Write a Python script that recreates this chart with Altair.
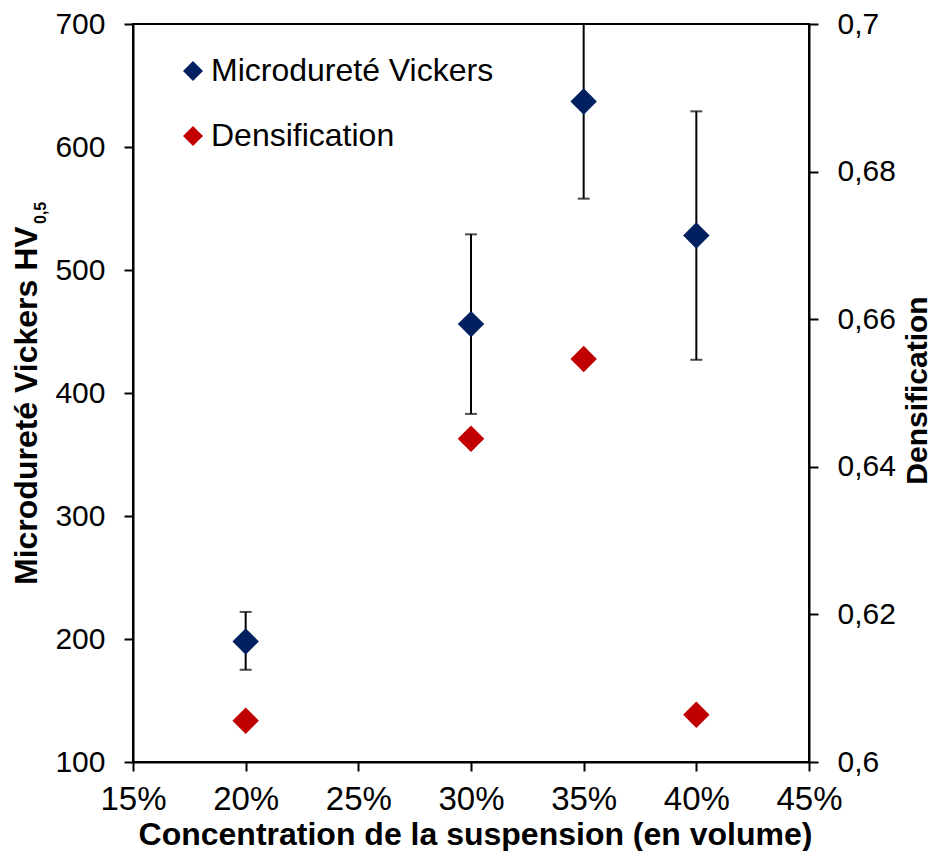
import altair as alt
import pandas as pd

# ---- data ----
conc = [0.20, 0.30, 0.35, 0.40]
hv = [198, 456, 637, 528]
hv_low = [175, 383, 558, 427]
hv_high = [222, 529, 716, 629]
dens = [0.6056, 0.6438, 0.6546, 0.6064]

series_names = ["Microdureté Vickers", "Densification"]
series_colors = ["#002060", "#C00000"]

x_ticks = [0.15, 0.20, 0.25, 0.30, 0.35, 0.40, 0.45]
y_ticks = [100, 200, 300, 400, 500, 600, 700]
y2_ticks = [0.6, 0.62, 0.64, 0.66, 0.68, 0.7]

x_title = "Concentration de la suspension (en volume)"
y_title_main = "Microdureté Vickers HV"
y_title_sub = "0,5"
y2_title = "Densification"

FONT = "Liberation Sans, Arial, Helvetica, sans-serif"

df_hv = pd.DataFrame({"conc": conc, "hv": hv, "low": hv_low, "high": hv_high,
                      "serie": series_names[0]})
df_d = pd.DataFrame({"conc": conc, "dens": dens, "serie": series_names[1]})

axis_common = dict(domainColor="black", domainWidth=2, tickColor="black", tickWidth=2,
                   tickSize=9, grid=False, labelFont=FONT, labelColor="black")

x_enc = alt.X("conc:Q",
              scale=alt.Scale(domain=[0.15, 0.45], nice=False, zero=False),
              axis=alt.Axis(values=x_ticks, format=".0%", title=x_title,
                            labelFontSize=33, labelPadding=12,
                            titleFont=FONT, titleFontSize=32,
                            titleFontWeight="bold", titleColor="black",
                            titleX=342, titleY=72, titleBaseline="middle",
                            labelFlush=False, **axis_common))

y_scale = alt.Scale(domain=[100, 700], nice=False, zero=False)
y_axis = alt.Axis(values=y_ticks, title=None, labelFontSize=30, labelPadding=19,
                  **axis_common)

color_enc = alt.Color("serie:N",
                      scale=alt.Scale(domain=series_names, range=series_colors),
                      legend=alt.Legend(orient="none", legendX=44, legendY=31, title=None,
                                        symbolType="diamond", symbolSize=400,
                                        symbolOpacity=1, symbolStrokeWidth=0,
                                        labelFont=FONT, labelFontSize=32,
                                        labelColor="black", labelOffset=2,
                                        labelLimit=0, rowPadding=33, padding=0))

base_hv = alt.Chart(df_hv)

rule = base_hv.mark_rule(color="black", strokeWidth=2, clip=True).encode(
    x=x_enc,
    y=alt.Y("low:Q", scale=y_scale, axis=y_axis),
    y2="high:Q",
)
cap_low = base_hv.mark_tick(orient="horizontal", size=12, thickness=2,
                            color="black", clip=True).encode(
    x=x_enc, y=alt.Y("low:Q", scale=y_scale, axis=y_axis))
cap_high = base_hv.mark_tick(orient="horizontal", size=12, thickness=2,
                             color="black", clip=True).encode(
    x=x_enc, y=alt.Y("high:Q", scale=y_scale, axis=y_axis))
pts_hv = base_hv.mark_point(shape="diamond", filled=True, size=700, opacity=1,
                            strokeWidth=0).encode(
    x=x_enc, y=alt.Y("hv:Q", scale=y_scale, axis=y_axis), color=color_enc)

left = alt.layer(rule, cap_low, cap_high, pts_hv)

right = alt.Chart(df_d).mark_point(shape="diamond", filled=True, size=700, opacity=1,
                                   strokeWidth=0).encode(
    x=x_enc,
    y=alt.Y("dens:Q",
            scale=alt.Scale(domain=[0.6, 0.7], nice=False, zero=False),
            axis=alt.Axis(orient="right", values=y2_ticks,
                          labelExpr="replace(format(datum.value, '.2~f'), '.', ',')",
                          labelFontSize=30, labelPadding=19,
                          title=y2_title, titleFont=FONT,
                          titleFontSize=30, titleFontWeight="bold", titleColor="black",
                          titleAngle=270, titleX=117, titleY=366,
                          titleBaseline="alphabetic", titleAlign="center",
                          **axis_common)),
    color=color_enc,
)

title_main = alt.Chart(pd.DataFrame({"t": [y_title_main]})).mark_text(
    angle=270, align="left", baseline="alphabetic", font=FONT, fontSize=32,
    fontWeight="bold", color="black").encode(
    text="t:N", x=alt.value(-96), y=alt.value(561))
title_sub = alt.Chart(pd.DataFrame({"t": [y_title_sub]})).mark_text(
    angle=270, align="left", baseline="alphabetic", font=FONT, fontSize=16,
    fontWeight="bold", color="black").encode(
    text="t:N", x=alt.value(-87), y=alt.value(200))

chart = alt.layer(left, right, title_main, title_sub).resolve_scale(
    y="independent"
).properties(
    width=676, height=738,
    padding={"left": 125, "top": 16, "right": 124, "bottom": 89},
    autosize=alt.AutoSizeParams(type="none"),
    background="white",
).configure_view(stroke="black", strokeWidth=2)

chart.save("out.html", embed_options={"renderer": "svg", "actions": False})
